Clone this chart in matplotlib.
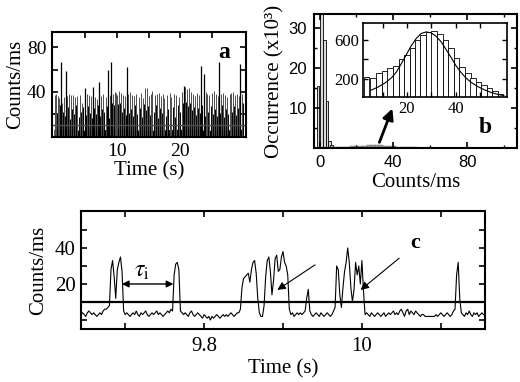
import numpy as np
import matplotlib
matplotlib.use("Agg")
import matplotlib.pyplot as plt

plt.rcParams["font.family"] = ["Liberation Serif", "DejaVu Serif"]
plt.rcParams["mathtext.fontset"] = "stix"
plt.rcParams["xtick.direction"] = "in"
plt.rcParams["ytick.direction"] = "in"
plt.rcParams["xtick.top"] = True
plt.rcParams["ytick.right"] = True

# ── (a) 30 s trace: burst spikes ──────────────────────────────────────────────
A_TALL_T = [1.05, 1.85, 4.9, 6.2, 7.15, 8.6, 9.05, 11.5, 20.55, 23.3, 23.7, 26.2, 29.5]
A_TALL_H = [67, 59, 43, 44, 49, 60, 67, 62, 45, 63, 56, 67, 65]

A_MID_T = [0.1, 0.35, 0.6, 0.85, 1.3, 1.6, 2.1, 2.4, 2.7, 3.0, 3.3, 3.7, 4.1, 4.4,
           5.2, 5.5, 5.9, 6.5, 6.8, 7.5, 7.8, 8.2, 8.9, 9.3, 9.6, 9.8, 10.0, 10.3,
           10.6, 10.9, 11.2, 11.8, 12.1, 12.4, 12.7, 13.0, 13.4, 13.8, 14.1, 14.4,
           14.7, 15.0, 15.3, 15.6, 16.0, 16.3, 16.6, 16.9, 17.2, 17.5, 17.9, 18.3,
           18.6, 19.0, 19.4, 19.8, 20.2, 20.8, 21.1, 21.4, 21.7, 22.0, 22.3, 22.7,
           23.0, 24.0, 24.3, 24.6, 25.0, 25.3, 25.6, 25.9, 26.5, 26.8, 27.1, 27.4,
           27.8, 28.1, 28.4, 28.7, 29.0, 29.3, 29.8]
A_MID_H = [37, 38, 36, 34, 30, 35, 36, 38, 37, 37, 35, 36, 37, 30,
           38, 37, 36, 35, 33, 36, 38, 35, 37, 38, 40, 39, 37, 41,
           39, 37, 36, 38, 40, 37, 36, 38, 35, 39, 34, 43,
           43, 36, 38, 41, 37, 38, 39, 36, 38, 34, 37, 39,
           35, 38, 37, 35, 40, 44, 42, 43, 40, 38, 36, 39,
           37, 40, 38, 37, 39, 41, 38, 36, 38, 39, 37, 35,
           38, 39, 40, 37, 38, 36, 38]

A_LOW_T = [0.2, 0.5, 0.95, 1.4, 1.75, 2.25, 2.55, 2.85, 3.15, 3.5, 3.9, 4.25, 4.6,
           5.05, 5.35, 5.7, 6.05, 6.35, 6.65, 7.0, 7.3, 7.65, 8.0, 8.4, 8.75, 9.2,
           9.45, 9.7, 9.9, 10.15, 10.45, 10.75, 11.05, 11.35, 11.65, 11.95, 12.25,
           12.55, 12.85, 13.2, 13.6, 13.95, 14.25, 14.55, 14.85, 15.15, 15.45, 15.8,
           16.15, 16.45, 16.75, 17.05, 17.35, 17.7, 18.1, 18.45, 18.8, 19.2, 19.6,
           20.0, 20.4, 20.65, 20.95, 21.25, 21.55, 21.85, 22.15, 22.5, 22.85, 23.15,
           23.5, 23.85, 24.15, 24.45, 24.8, 25.15, 25.45, 25.75, 26.05, 26.35, 26.65,
           26.95, 27.25, 27.6, 27.95, 28.25, 28.55, 28.85, 29.15, 29.45, 29.7, 29.9]
A_LOW_H = [25, 20, 28, 22, 18, 26, 15, 24, 20, 28, 17, 22, 26,
           19, 27, 21, 16, 25, 20, 28, 18, 24, 22, 27, 16, 30,
           28, 31, 26, 29, 30, 22, 25, 19, 27, 21, 24,
           18, 28, 20, 25, 17, 29, 23, 27, 19, 26, 22,
           28, 16, 25, 21, 27, 18, 24, 20, 26, 17, 28,
           22, 30, 29, 31, 27, 30, 23, 26, 19, 25, 21,
           28, 18, 26, 22, 27, 20, 24, 18, 25, 21, 28,
           17, 24, 20, 26, 22, 27, 19, 25, 23, 28, 30]

A_FLOOR_T = [0, 5, 10, 15, 20, 25, 30]
A_FLOOR_H = [6, 5, 6, 5, 6, 5, 6]
A_THRESH = 10

# ── (b) count-rate histogram (x10^3) and burst part (inset) ───────────────────
B_BG_X = [-0.8, 1.0, 2.6, 4.0, 5.3, 6.6]
B_BG_H = [15.4, 33.5, 27.0, 11.7, 1.7, 0.8]

B_BURST_X = [3.5, 6.2, 8.6, 10.9, 13.1, 15.4, 17.7, 19.9, 22.2, 24.4, 26.7, 29.0,
             31.2, 33.5, 35.8, 38.1, 40.3, 42.6, 44.9, 47.1, 49.4, 51.6, 53.9,
             56.1, 58.4]
B_BURST_H = [227, 210, 260, 280, 310, 330, 400, 450, 520, 600, 650, 680,
             690, 660, 600, 520, 420, 320, 260, 210, 170, 140, 110, 80, 50]

B_FIT_X = [5.1, 8.1, 10.9, 13.6, 15.6, 17.6, 19.7, 21.7, 23.8, 25.8, 27.9, 29.9,
           31.9, 34.0, 36.0, 38.1, 40.1, 42.1, 44.2, 46.2, 48.9, 51.7, 54.4, 57.1,
           59.8]
B_FIT_Y = [87, 120, 160, 213, 270, 353, 447, 537, 613, 663, 680, 670,
           637, 580, 503, 420, 337, 270, 213, 170, 127, 93, 67, 47, 33]

# ── (c) zoom of the trace, 2 ms steps from 9.644 s ────────────────────────────
C_T0 = 9.644
C_DT = 0.002
C_COUNTS = (
    [3, 4, 3, 2, 4, 5, 4, 3, 4, 3, 2, 3, 4, 3, 5, 6, 6, 7]
    + [8, 28, 33, 24, 12, 28, 32, 35, 27, 5]
    + [3, 4, 3, 2, 3, 4, 3, 5, 3, 2, 4, 3, 4, 5, 3, 2, 3, 4, 3, 4,
       5, 3, 4, 3, 2, 3, 4, 5, 4, 6]
    + [5, 25, 31, 32, 28, 5]
    + [4, 3, 4, 3, 2, 4, 5, 3, 2, 3, 4, 3, 2, 1, 3, 2, 1, 2, 0, 2,
       1, 2, 3, 2, 1, 2, 3, 2, 3, 2, 3, 4, 3, 2, 3, 4, 4, 6]
    + [18, 23, 24, 25, 26, 21, 28, 32, 33, 26, 12, 4, 2, 2, 8, 24,
       33, 35, 27, 14, 22, 34, 36, 27, 28, 35, 38, 32, 30, 25, 6]
    + [3, 4, 2, 3, 4, 3, 4, 3, 4]
    + [5, 12, 17, 5]
    + [3, 2, 3, 4, 3, 2, 4, 3, 2, 3, 4, 3, 2, 3, 5, 7]
    + [30, 28, 14, 7, 18, 27, 32, 40, 32, 18, 10, 17, 32, 25, 30, 20, 33, 16, 3]
    + [4, 3, 2, 4, 3, 2, 3, 4, 3, 2, 3, 4, 2, 3, 4, 3, 4, 5, 3, 4,
       3, 5, 6, 4, 2, 5, 6, 3, 5, 4, 3, 5, 4, 3, 2, 3, 3, 2, 2, 2,
       2, 2, 2, 2, 3, 2, 3, 4, 3, 2, 3, 4, 3, 2, 3, 5]
    + [6, 25, 32, 12, 4]
    + [3, 2, 4, 3, 5, 3, 2, 4, 3, 4, 2, 3, 4, 3]
)
C_THRESH = 10


def style(ax):
    for sp in ax.spines.values():
        sp.set_linewidth(1.5)
    ax.tick_params(which="major", length=4.5, width=1.2)
    ax.tick_params(which="minor", length=2.5, width=1.0)


fig = plt.figure(figsize=(5.2, 3.82), dpi=100)

# ── Panel a ──
ax_a = fig.add_axes([0.1, 0.6414, 0.3731, 0.2749])
ax_a.fill_between(A_FLOOR_T, 0, A_FLOOR_H, color="k", lw=0)
ax_a.vlines(A_LOW_T, 0, A_LOW_H, color="k", lw=0.7)
ax_a.vlines(A_MID_T, 0, A_MID_H, color="0.3", lw=0.7)
ax_a.vlines(A_TALL_T, 0, A_TALL_H, color="k", lw=0.9)
ax_a.axhline(A_THRESH, color="0.3", lw=1.0)
ax_a.set_xlim(-0.3, 30.4)
ax_a.set_ylim(-1, 94)
ax_a.set_xticks([5, 10, 15, 20, 25])
ax_a.set_xticklabels(["", "10", "", "20", ""])
ax_a.set_yticks([20, 40, 60, 80])
ax_a.set_yticklabels(["", "40", "", "80"])
ax_a.tick_params(labelsize=14, pad=4)
ax_a.set_xlabel("Time (s)", fontsize=15, labelpad=1)
ax_a.set_ylabel("Counts/ms", fontsize=15, labelpad=1)
ax_a.text(27.0, 75.7, "a", fontsize=17, fontweight="bold", ha="center", va="center")
style(ax_a)

# ── Panel b ──
ax_b = fig.add_axes([0.6038, 0.6126, 0.3904, 0.3508])
ax_b.bar(B_BG_X, B_BG_H, width=1.4, facecolor="0.85", edgecolor="k", lw=0.6)
ax_b.bar(B_BURST_X, np.array(B_BURST_H) / 1000.0, width=2.3,
         facecolor="0.6", edgecolor="0.4", lw=0.3)
ax_b.set_xlim(-3, 107)
ax_b.set_ylim(0, 33.5)
ax_b.set_xticks([0, 40, 80])
ax_b.set_xticks([20, 60, 100], minor=True)
ax_b.set_yticks([10, 20, 30])
ax_b.set_yticks([5, 15, 25], minor=True)
ax_b.tick_params(labelsize=12, pad=5)
for lbl in ax_b.get_xticklabels() + ax_b.get_yticklabels():
    lbl.set_fontfamily("Liberation Sans")
ax_b.set_xlabel("Counts/ms", fontsize=15, labelpad=2)
ax_b.set_ylabel("Occurrence (x10³)", fontsize=15, labelpad=3)
ax_b.annotate("", xy=(40.0, 10.5), xytext=(31.9, 0.75),
              arrowprops=dict(arrowstyle="-|>", color="k", lw=2.0,
                              mutation_scale=16))
ax_b.text(89.7, 5.0, "b", fontsize=17, fontweight="bold", ha="center", va="center")
style(ax_b)

# inset
ax_in = fig.add_axes([0.6981, 0.7461, 0.2769, 0.1937])
ax_in.bar(B_BURST_X, B_BURST_H, width=2.3, facecolor="white", edgecolor="k", lw=0.6)
ax_in.plot(B_FIT_X, B_FIT_Y, color="k", lw=0.8)
ax_in.set_xlim(2, 61)
ax_in.set_ylim(20, 770)
ax_in.set_xticks([10, 20, 30, 40, 50])
ax_in.set_xticklabels(["", "20", "", "40", ""])
ax_in.set_yticks([200, 400, 600])
ax_in.set_yticklabels(["200", "", "600"])
ax_in.tick_params(labelsize=12, pad=3)
style(ax_in)
for sp in ax_in.spines.values():
    sp.set_linewidth(1.2)
ax_in.tick_params(which="major", length=3.5, width=1.0)

# ── Panel c ──
ax_c = fig.add_axes([0.1558, 0.1387, 0.7769, 0.3089])
c_t = C_T0 + C_DT * np.arange(len(C_COUNTS))
ax_c.plot(c_t, C_COUNTS, color="k", lw=0.8)
ax_c.axhline(C_THRESH, color="k", lw=1.6)
ax_c.set_xlim(9.644, 10.156)
ax_c.set_ylim(-5, 60.5)
ax_c.set_xticks([9.7, 9.8, 9.9, 10.0, 10.1])
ax_c.set_xticklabels(["", "9.8", "", "10", ""])
ax_c.set_yticks([0, 10, 20, 30, 40, 50])
ax_c.set_yticklabels(["", "", "20", "", "40", ""])
ax_c.tick_params(labelsize=15, pad=4)
ax_c.tick_params(axis="x", pad=6)
ax_c.set_xlabel("Time (s)", fontsize=15, labelpad=2)
ax_c.set_ylabel("Counts/ms", fontsize=15, labelpad=5)
ax_c.annotate("", xy=(9.6958, 20), xytext=(9.7611, 20),
              arrowprops=dict(arrowstyle="<|-|>", color="k", lw=1.0,
                              mutation_scale=10, shrinkA=0, shrinkB=0))
ax_c.text(9.7211, 27.0, r"$\tau_\mathrm{i}$", fontsize=17, ha="center", va="center")
ax_c.annotate("", xy=(9.8928, 16.7), xytext=(9.9405, 30.6),
              arrowprops=dict(arrowstyle="-|>", color="k", lw=0.8,
                              mutation_scale=12, shrinkA=0, shrinkB=0))
ax_c.annotate("", xy=(9.9983, 16.7), xytext=(10.0472, 34.3),
              arrowprops=dict(arrowstyle="-|>", color="k", lw=0.8,
                              mutation_scale=12, shrinkA=0, shrinkB=0))
ax_c.text(10.068, 42.8, "c", fontsize=16, fontweight="bold", ha="center", va="center")
style(ax_c)

fig.savefig("out.png", dpi=100)
